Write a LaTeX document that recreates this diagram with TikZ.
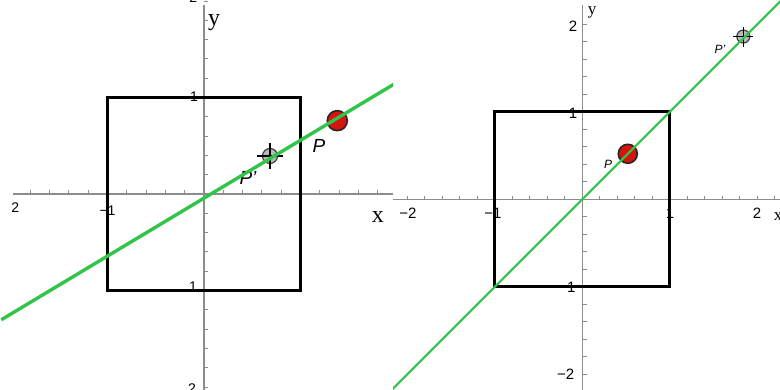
\documentclass[tikz,border=0pt]{standalone}
\usepackage{fontspec}
\setmainfont{Liberation Sans}
\newfontfamily\axisfont{Liberation Serif}
\definecolor{plotgreen}{RGB}{50,196,72}
\definecolor{pointred}{RGB}{212,20,14}
\definecolor{axisgray}{RGB}{140,140,140}
\definecolor{markgray}{RGB}{185,185,185}
\begin{document}
\begin{tikzpicture}[x=1pt,y=1pt,
    axisline/.style={draw=axisgray, line width=1.1pt},
    tickline/.style={draw=axisgray, line width=0.9pt},
    unitsq/.style={draw=black, line width=2.8pt},
    graphline/.style={draw=plotgreen},
    redpt/.style={circle, fill=pointred, draw=black!85, line width=1.6pt, inner sep=0pt},
    graypt/.style={circle, fill=markgray, draw=black!75, line width=1.2pt, inner sep=0pt},
    crossline/.style={draw=black, line width=1.6pt},
    numlbl/.style={inner sep=0pt},
    ptlbl/.style={inner sep=0pt, font=\itshape}]

    \useasboundingbox (0,0) rectangle (780,390);

    % left graph
    \begin{scope}[shift={(204pt,196pt)}, x=96.5pt, y=96.5pt]
        \clip (-2.114,-2.031) rectangle (1.959,2.010);
        \draw[axisline] (-1.98,0) -- (1.96,0);
        \draw[axisline] (0,-2.04) -- (0,1.96);
        \foreach \t in {-1.8,-1.6,...,1.9}
            \draw[tickline] (\t,0) -- ++(0,3.5pt);
        \foreach \t in {-2,-1.8,...,2.1}
            \draw[tickline] (0,\t) -- ++(3.5pt,0);

        \node[numlbl, font=\fontsize{14}{14}\selectfont] (lxa) at (-1.955,-0.145) {2};
        \node[numlbl, font=\fontsize{14}{14}\selectfont] (lxb) at (-1.0,-0.176) {−1};
        \node[numlbl, font=\fontsize{14}{14}\selectfont] (lya) at (-0.11,2.04) {2};
        \node[numlbl, font=\fontsize{14}{14}\selectfont] (lyb) at (-0.104,1.005) {1};
        \node[numlbl, font=\fontsize{14}{14}\selectfont] (lyc) at (-0.114,-0.964) {1};
        \node[numlbl, font=\fontsize{14}{14}\selectfont] (lyd) at (-0.124,-2.02) {2};
        \node[numlbl, font=\axisfont\fontsize{24}{24}\selectfont] (lx) at (1.803,-0.238) {x};
        \node[numlbl, font=\axisfont\fontsize{24}{24}\selectfont] (ly) at (0.104,1.78) {y};

        \draw[unitsq] (-1,-1) rectangle (1,1);

        \node[ptlbl, font=\itshape\fontsize{19}{19}\selectfont] (lPl) at (1.192,0.497) {P};
        \node[ptlbl, font=\itshape\fontsize{19}{19}\selectfont] (lQl) at (0.456,0.166) {P'};

        \node[redpt, minimum size=20pt] (lP) at (1.381,0.760) {};
        \node[graypt, minimum size=15pt] (lQ) at (0.684,0.394) {};
        \draw[crossline] ([xshift=-13pt]lQ.center) -- ([xshift=13pt]lQ.center);
        \draw[crossline] ([yshift=-13pt]lQ.center) -- ([yshift=13pt]lQ.center);

        \coordinate (lA) at (-2.1,-1.303);
        \coordinate (lB) at (2.0,1.157);
        \draw[graphline, line width=3.4pt] (lA) -- (lB);
    \end{scope}

    % right graph
    \begin{scope}[shift={(582.3pt,190.7pt)}, x=87.5pt, y=87.5pt]
        \clip (-2.163,-2.179) rectangle (2.260,2.278);
        \draw[axisline] (-2.163,0) -- (2.26,0);
        \draw[axisline] (0,-2.2) -- (0,2.22);
        \foreach \t in {-2,-1.8,...,2.3}
            \draw[tickline] (\t,0) -- ++(0,3.5pt);
        \foreach \t in {-2,-1.8,...,2.1}
            \draw[tickline] (0,\t) -- ++(4.5pt,0);

        \node[numlbl, font=\fontsize{15}{15}\selectfont] (rxa) at (-1.992,-0.157) {−2};
        \node[numlbl, font=\fontsize{15}{15}\selectfont] (rxb) at (-1.021,-0.157) {−1};
        \node[numlbl, font=\fontsize{15}{15}\selectfont] (rxc) at (1.002,-0.157) {1};
        \node[numlbl, font=\fontsize{15}{15}\selectfont] (rxd) at (1.997,-0.157) {2};
        \node[numlbl, font=\fontsize{15}{15}\selectfont] (rya) at (-0.106,1.979) {2};
        \node[numlbl, font=\fontsize{15}{15}\selectfont] (ryb) at (-0.106,0.986) {1};
        \node[numlbl, font=\fontsize{15}{15}\selectfont] (ryc) at (-0.175,-1.003) {−1};
        \node[numlbl, font=\fontsize{15}{15}\selectfont] (ryd) at (-0.19,-1.997) {−2};
        \node[numlbl, font=\axisfont\fontsize{17}{17}\selectfont] (rx) at (2.237,-0.202) {x};
        \node[numlbl, font=\axisfont\fontsize{17}{17}\selectfont] (ry) at (0.111,2.13) {y};

        \draw[unitsq] (-1,-1) rectangle (1,1);

        \node[ptlbl, font=\itshape\fontsize{12}{12}\selectfont] (rPl) at (0.294,0.403) {P};
        \node[ptlbl, font=\itshape\fontsize{12}{12}\selectfont] (rQl) at (1.574,1.718) {P'};

        \node[redpt, minimum size=19pt] (rP) at (0.52,0.52) {};
        \node[graypt, minimum size=13pt] (rQ) at (1.84,1.86) {};
        \draw[crossline] ([xshift=-10pt]rQ.center) -- ([xshift=10pt]rQ.center);
        \draw[crossline] ([yshift=-10pt]rQ.center) -- ([yshift=10pt]rQ.center);

        \coordinate (rA) at (-2.3,-2.3);
        \coordinate (rB) at (2.4,2.4);
        \draw[graphline, line width=2pt] (rA) -- (rB);
    \end{scope}
\end{tikzpicture}
\end{document}
